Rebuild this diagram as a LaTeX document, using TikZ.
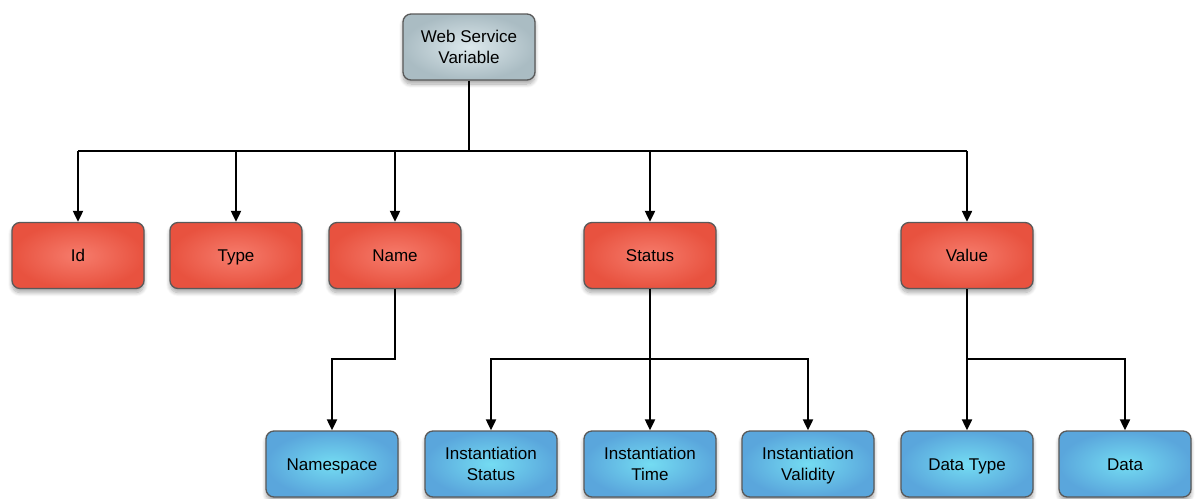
\documentclass[tikz,border=0pt]{standalone}
\usepackage{fontspec}
\setmainfont{Liberation Sans}
\usetikzlibrary{arrows.meta,shadows.blur}

\definecolor{grayin}{HTML}{DCE8EC}
\definecolor{grayout}{HTML}{AABCC3}
\definecolor{redin}{HTML}{F67C6C}
\definecolor{redout}{HTML}{E8523F}
\definecolor{bluein}{HTML}{74DCF2}
\definecolor{blueout}{HTML}{5AA6DC}

% balanced strut so one-line labels sit centred in their boxes
\newcommand{\labelstrut}{\rule[-4pt]{0pt}{20pt}}
% two centred lines, padded so both lines sit symmetrically about the middle
\newcommand{\pairlabel}[2]{%
  \begin{tabular}{@{}c@{}}\rule{0pt}{18.3pt}#1\\#2\end{tabular}}

\tikzset{
  box/.style={draw=black!65, line width=1.3pt, rounded corners=8pt,
    minimum width=132pt, minimum height=66pt, inner sep=0pt,
    font=\fontsize{17}{21}\selectfont,
    execute at begin node={\labelstrut}, execute at end node={\labelstrut},
    blur shadow={shadow xshift=0pt, shadow yshift=-4pt, shadow blur steps=8,
      shadow blur radius=4pt, shadow opacity=35}},
  rootbox/.style={box, inner color=grayin, outer color=grayout},
  attrbox/.style={box, inner color=redin, outer color=redout},
  subbox/.style={box, inner color=bluein, outer color=blueout},
  wire/.style={draw=black, line width=2pt},
  feed/.style={wire, -{Triangle[length=11pt,width=10pt]}},
}

\begin{document}
\begin{tikzpicture}[x=1pt,y=-1pt]
\useasboundingbox (0,0) rectangle (1201,498);

% root
\node[rootbox] (root) at (469,47) {\pairlabel{Web Service}{Variable}};

% attributes
\node[attrbox] (id)     at (78,255.5)  {Id};
\node[attrbox] (type)   at (236,255.5) {Type};
\node[attrbox] (name)   at (395,255.5) {Name};
\node[attrbox] (status) at (650,255.5) {Status};
\node[attrbox] (value)  at (967,255.5) {Value};

% sub-attributes
\node[subbox] (ns)       at (332,464)  {Namespace};
\node[subbox] (istatus)  at (491,464)  {\pairlabel{Instantiation}{Status}};
\node[subbox] (itime)    at (650,464)  {\pairlabel{Instantiation}{Time}};
\node[subbox] (ivalid)   at (808,464)  {\pairlabel{Instantiation}{Validity}};
\node[subbox] (dtype)    at (967,464)  {Data Type};
\node[subbox] (data)     at (1125,464) {Data};

% bus levels
\coordinate (busA) at (469,151);
\coordinate (busB) at (0,359);

% root to attributes
\draw[wire] (root.south) -- (busA);
\draw[wire] (id.north |- busA) -- (value.north |- busA);
\foreach \n in {id,type,name,status,value}
  \draw[feed] (\n.north |- busA) -- (\n.north);

% Name branch
\draw[feed] (name.south) -- (name.south |- busB) -| (ns.north);

% Status branch
\draw[feed] (status.south) -- (itime.north);
\draw[feed] (status.south |- busB) -| (istatus.north);
\draw[feed] (status.south |- busB) -| (ivalid.north);

% Value branch
\draw[feed] (value.south) -- (dtype.north);
\draw[feed] (value.south |- busB) -| (data.north);
\end{tikzpicture}
\end{document}
